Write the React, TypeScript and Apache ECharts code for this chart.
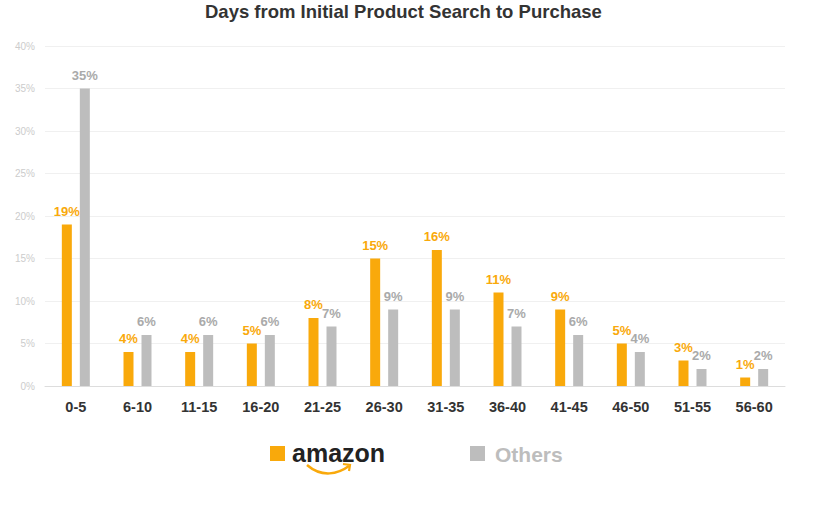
import React, { useEffect, useRef } from "react";
import * as echarts from "echarts";

const categories = ["0-5", "6-10", "11-15", "16-20", "21-25", "26-30", "31-35", "36-40", "41-45", "46-50", "51-55", "56-60"];
const amazonValues = [19, 4, 4, 5, 8, 15, 16, 11, 9, 5, 3, 1];
const othersValues = [35, 6, 6, 6, 7, 9, 9, 7, 6, 4, 2, 2];

const ORANGE = "#F9A90B";
const GRAY = "#BDBDBD";

export default function App() {
  const ref = useRef<HTMLDivElement>(null);
  useEffect(() => {
    if (!ref.current) return;
    const chart = echarts.init(ref.current, undefined, { renderer: "svg" });
    chart.setOption({
      animation: false,
      textStyle: { fontFamily: "Liberation Sans, Arial, sans-serif" },
      title: {
        text: "Days from Initial Product Search to Purchase",
        left: 200,
        top: -3,
        textStyle: { fontSize: 18.5, fontWeight: "bold", color: "#333" },
      },
      grid: { left: 45, right: 49, top: 46, bottom: 128 },
      xAxis: {
        type: "category",
        data: categories,
        axisTick: { show: false },
        axisLine: { lineStyle: { color: "#ddd", width: 1 } },
        axisLabel: { color: "#333", fontWeight: "bold", fontSize: 14.5, margin: 13 },
      },
      yAxis: {
        type: "value",
        min: 0,
        max: 40,
        interval: 5,
        axisLabel: { formatter: "{value}%", color: "#ccc", fontSize: 10, margin: 10 },
        splitLine: { lineStyle: { color: "#f0f0f0" } },
        axisLine: { show: false },
        axisTick: { show: false },
      },
      legend: { show: false },
      series: [
        {
          name: "amazon",
          type: "bar",
          data: amazonValues,
          barWidth: 10,
          barGap: "80%",
          itemStyle: { color: ORANGE },
          label: {
            show: true,
            position: "top",
            formatter: "{c}%",
            color: ORANGE,
            fontWeight: "bold",
            fontSize: 13,
            distance: 7,
          },
        },
        {
          name: "Others",
          type: "bar",
          data: othersValues,
          barWidth: 10,
          itemStyle: { color: GRAY },
          label: {
            show: true,
            position: "top",
            formatter: "{c}%",
            color: "#aaa",
            fontWeight: "bold",
            fontSize: 13,
            distance: 7,
          },
        },
      ],
      graphic: [
        { type: "rect", left: 270, top: 446, shape: { width: 15, height: 15 }, style: { fill: ORANGE } },
        {
          type: "text",
          left: 292,
          top: 440,
          style: { text: "amazon", fill: "#222", font: "bold 25px 'Liberation Sans', Arial, sans-serif" },
        },
        {
          type: "bezierCurve",
          shape: { x1: 307, y1: 465, x2: 349, y2: 466, cpx1: 322, cpy1: 478, cpx2: 338, cpy2: 474 },
          style: { stroke: ORANGE, lineWidth: 2.5, fill: "none" },
        },
        {
          type: "polyline",
          shape: { points: [[343, 464], [350, 465], [349, 471]] },
          style: { stroke: ORANGE, lineWidth: 2.2, fill: "none" },
        },
        { type: "rect", left: 470, top: 446, shape: { width: 15, height: 15 }, style: { fill: GRAY } },
        {
          type: "text",
          left: 495,
          top: 444,
          style: { text: "Others", fill: "#BDBDBD", font: "bold 21px 'Liberation Sans', Arial, sans-serif" },
        },
      ],
    });
    return () => chart.dispose();
  }, []);
  return <div ref={ref} style={{ position: "absolute", left: 0, top: 0, width: 834, height: 514 }} />;
}
